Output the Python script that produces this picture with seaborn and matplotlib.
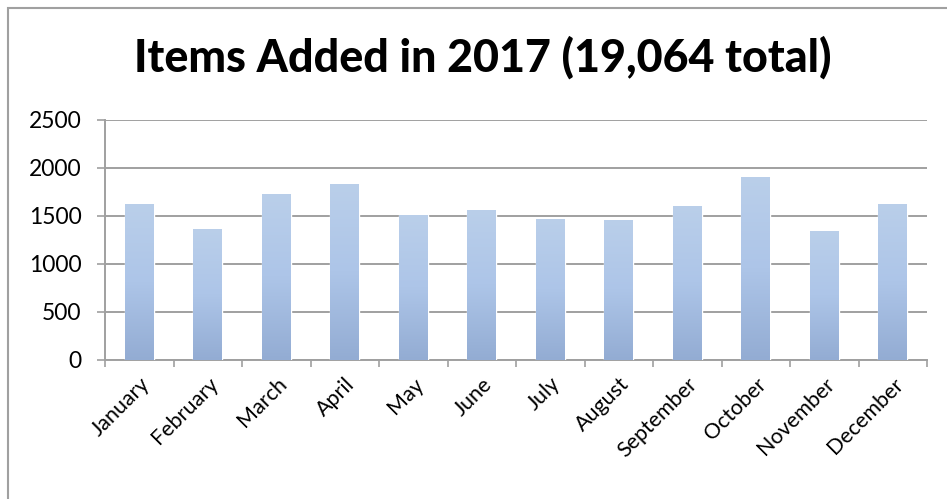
import matplotlib
matplotlib.use('Agg')
from matplotlib import pyplot as plt
from matplotlib.patches import Rectangle
import numpy as np
import pandas as pd
import seaborn as sns

months = ['January', 'February', 'March', 'April', 'May', 'June', 'July',
          'August', 'September', 'October', 'November', 'December']
items = [1620, 1368, 1730, 1838, 1515, 1566, 1472, 1462, 1608, 1910, 1348, 1627]
yticks = [0, 500, 1000, 1500, 2000, 2500]
title = 'Items Added in 2017 (19,064 total)'

sns.set_style('white')
plt.rcParams['font.family'] = ['Lato', 'DejaVu Sans']

df = pd.DataFrame({'month': months, 'items': items})

fig = plt.figure(figsize=(9.47, 4.99), dpi=100)
ax = fig.add_axes([105 / 947, 1 - 360 / 499, 822 / 947, 240 / 499])

sns.barplot(data=df, x='month', y='items', color='#a8c2e6', width=0.42,
            saturation=1, ax=ax, zorder=3)

# vertical gradient on each bar, lighter at the top
grad = np.linspace(0, 1, 256).reshape(-1, 1)
cmap = matplotlib.colors.LinearSegmentedColormap.from_list(
    'g', ['#93acd3', '#adc5e8', '#bacfea'])
for p in list(ax.patches):
    x0, y0 = p.get_x(), p.get_y()
    w, h = p.get_width(), p.get_height()
    im = ax.imshow(grad, cmap=cmap, aspect='auto', origin='lower',
                   extent=[x0, x0 + w, y0, y0 + h], zorder=4)
    im.set_clip_path(p)

ax.set_xlim(-0.5, len(months) - 0.5)
ax.set_ylim(0, 2500)
ax.set_yticks(yticks)
ax.set_xticks(np.arange(len(months)))
ax.set_xticklabels(months, rotation=45, ha='right', rotation_mode='anchor',
                   fontsize=15.5, color='black')
ax.set_xticks(np.arange(len(months) + 1) - 0.5, minor=True)
ax.tick_params(axis='x', which='major', length=0, pad=10)
ax.tick_params(axis='x', which='minor', length=5, width=1.2, color='#a0a0a0',
               direction='out', bottom=True)
ax.tick_params(axis='y', length=6, width=1.2, color='#a0a0a0', direction='out',
               labelsize=16.5, labelcolor='black', left=True, pad=11)
ax.yaxis.grid(True, color='#a0a0a0', linewidth=1.4, zorder=0)
ax.set_axisbelow(True)
ax.set_xlabel('')
ax.set_ylabel('')
for s in ['top', 'right']:
    ax.spines[s].set_visible(False)
for s in ['left', 'bottom']:
    ax.spines[s].set_color('#a0a0a0')
    ax.spines[s].set_linewidth(1.4)

fig.text(483 / 947, 1 - 58 / 499, title, ha='center', va='center',
         fontsize=32.2, fontweight='black', color='black')

fig.patches.append(Rectangle((8 / 947, -0.02), 1.0, 1 - 8 / 499 + 0.02,
                             transform=fig.transFigure, fill=False,
                             edgecolor='#a0a0a0', linewidth=1.5))

fig.savefig('out.png', dpi=100)
